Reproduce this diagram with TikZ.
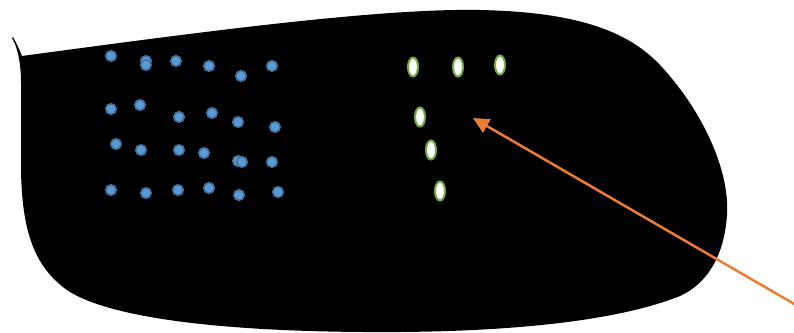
\documentclass[tikz,border=0pt]{standalone}
\usetikzlibrary{arrows.meta,shapes.geometric}
\definecolor{dotfill}{HTML}{5B9BD5}
\definecolor{dotedge}{HTML}{41719C}
\definecolor{ovaledge}{HTML}{70AD47}
\definecolor{arrowor}{HTML}{ED7D31}
\tikzset{
  bluedot/.style={circle,fill=dotfill,draw=dotedge,line width=1.6pt,minimum size=10.5pt,inner sep=0pt},
  greenoval/.style={ellipse,fill=white,draw=ovaledge,line width=2pt,minimum width=10pt,minimum height=19pt,inner sep=0pt},
  pointer/.style={draw=arrowor,line width=2.5pt,-{Triangle[length=16pt,width=15pt]}}
}
\begin{document}
\begin{tikzpicture}[x=1pt,y=-1pt]
\useasboundingbox (0,0) rectangle (794,332);
% body shape
\fill[black] (13,37) .. controls (17,44) and (20,51) .. (22,56)
  .. controls (200,32) and (380,8) .. (480,10)
  .. controls (570,12) and (625,28) .. (660,65)
  .. controls (702,110) and (730,170) .. (727,215)
  .. controls (724,258) and (706,284) .. (680,296)
  .. controls (620,320) and (520,331) .. (400,332)
  .. controls (250,333) and (120,322) .. (70,292)
  .. controls (30,266) and (22,222) .. (21,170)
  -- (21,82)
  .. controls (21,62) and (17,46) .. (12,38) -- cycle;
% blue dots
\foreach \n/\x/\y in {
  a1/111/56, a2/146/61, a3/146/65, a4/176/61, a5/209/66, a6/241/76, a7/272/66,
  b1/111/109, b2/140/105, b3/179/117, b4/212/113, b5/238/122, b6/275/127,
  c1/116/144, c2/141/150, c3/179/150, c4/204/153, c5/238/161, c6/242/162, c7/272/162,
  d1/111/190, d2/146/193, d3/178/190, d4/209/188, d5/239/195, d6/278/192}
  \node[bluedot] (\n) at (\x,\y) {};
% green ovals
\foreach \n/\x/\y in {g1/413/67, g2/458/67, g3/500/65, g4/420/117, g5/431/150, g6/440/191}
  \node[greenoval] (\n) at (\x,\y) {};
% arrow
\coordinate (arrstart) at (796,305);
\coordinate (arrtip) at (473,118);
\draw[pointer] (arrstart) -- (arrtip);
\end{tikzpicture}
\end{document}
